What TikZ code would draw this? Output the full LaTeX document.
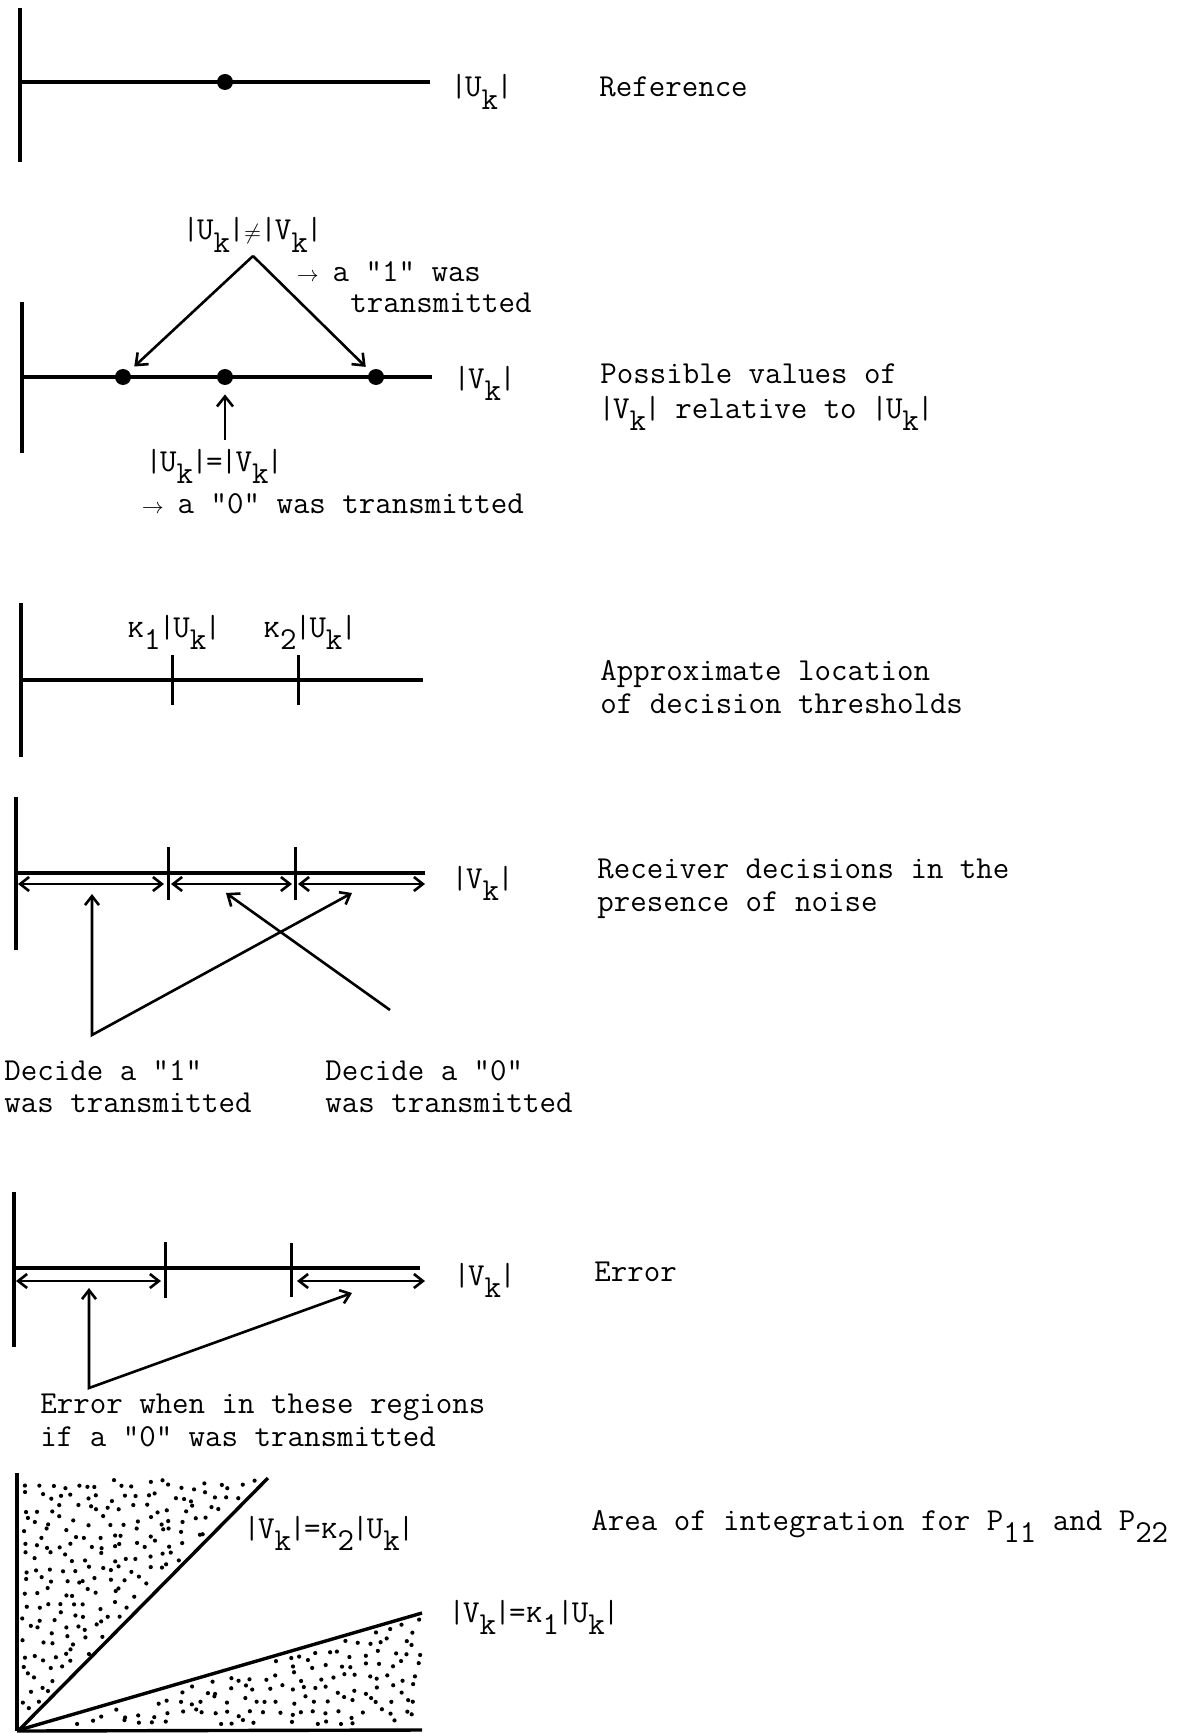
\documentclass[tikz,border=0pt]{standalone}
\usetikzlibrary{arrows.meta}
\newcommand{\bv}{\makebox[0.4em]{|}}
\newcommand{\lw}[1]{\raisebox{-0.4em}{#1}}
\newcommand{\kap}{{\scshape k}}
\newcommand{\rarr}{\makebox[0.525em]{$\scriptstyle\rightarrow$}}
\newcommand{\neqc}{\makebox[0.6em]{$\scriptstyle\neq$}}
\newcommand{\eqc}{\makebox[0.525em]{=}}
\begin{document}
\begin{tikzpicture}[x=0.5pt,y=-0.5pt,
  txt/.style={anchor=base west,inner sep=0pt,font=\fontsize{16}{19}\selectfont\ttfamily},
  axis/.style={line width=1.7pt},
  tickm/.style={line width=1.5pt},
  arr/.style={line width=1.3pt,-{Straight Barb[length=5pt,width=8pt]}},
  darr/.style={line width=1.3pt,{Straight Barb[length=4.5pt,width=7pt]}-{Straight Barb[length=4.5pt,width=7pt]}},
  dot/.style={circle,fill,inner sep=0pt,minimum size=8pt},
  stip/.style={radius=1.05pt}]
\useasboundingbox[fill=white] (0,0) rectangle (1191,1733);

% ---------- Panel 1: Reference
\coordinate (p1t) at (20,8);
\coordinate (p1b) at (20,162);
\coordinate (p1l) at (20,82);
\coordinate (p1r) at (430,82);
\draw[axis] (p1t) -- (p1b);
\draw[axis] (p1l) -- (p1r);
\node[dot] (d0) at (225,82) {};
\node[txt] (l1) at (452,97) {\bv U\lw{k}\bv};
\node[txt] (r1) at (599,97) {Reference};

% ---------- Panel 2: possible values
\coordinate (p2t) at (22,302);
\coordinate (p2b) at (22,453);
\coordinate (p2l) at (22,377);
\coordinate (p2r) at (432,377);
\draw[axis] (p2t) -- (p2b);
\draw[axis] (p2l) -- (p2r);
\node[dot] (d1) at (123,377) {};
\node[dot] (d2) at (225,377) {};
\node[dot] (d3) at (376,377) {};
\coordinate (apex) at (253,256);
\draw[arr,shorten >=3.5pt] (apex) -- (d1);
\draw[arr,shorten >=3pt] (apex) -- (d3);
\coordinate (up0) at (225,440);
\draw[arr,shorten >=4.5pt] (up0) -- (d2);
\node[txt] (ne) at (184,240) {\bv U\lw{k}\bv\neqc\bv V\lw{k}\bv};
\node[txt] (t1a) at (299,282) {\rarr{} a "1" was};
\node[txt] (t1b) at (350,313) {transmitted};
\node[txt] (l2) at (455,388) {\bv V\lw{k}\bv};
\node[txt] (eq) at (147,471) {\bv U\lw{k}\bv\eqc\bv V\lw{k}\bv};
\node[txt] (t0) at (144,513) {\rarr{} a "0" was transmitted};
\node[txt] (r2a) at (600,384) {Possible values of};
\node[txt] (r2b) at (600,418) {\bv V\lw{k}\bv{} relative to \bv U\lw{k}\bv};

% ---------- Panel 3: thresholds
\coordinate (p3t) at (21,603);
\coordinate (p3b) at (21,757);
\coordinate (p3l) at (21,680);
\coordinate (p3r) at (423,680);
\draw[axis] (p3t) -- (p3b);
\draw[axis] (p3l) -- (p3r);
\coordinate (k1t) at (172,655); \coordinate (k1b) at (172,705);
\coordinate (k2t) at (298,655); \coordinate (k2b) at (298,705);
\draw[tickm] (k1t) -- (k1b);
\draw[tickm] (k2t) -- (k2b);
\node[txt] (k1l) at (127,637) {\kap\lw{1}\bv U\lw{k}\bv};
\node[txt] (k2l) at (263,637) {\kap\lw{2}\bv U\lw{k}\bv};
\node[txt] (r3a) at (600,680) {Approximate location};
\node[txt] (r3b) at (600,713) {of decision thresholds};

% ---------- Panel 4: receiver decisions
\coordinate (p4t) at (16,797);
\coordinate (p4b) at (16,950);
\coordinate (p4l) at (16,873);
\coordinate (p4r) at (425,873);
\draw[axis] (p4t) -- (p4b);
\draw[axis] (p4l) -- (p4r);
\coordinate (m1t) at (168,847); \coordinate (m1b) at (168,900);
\coordinate (m2t) at (295,847); \coordinate (m2b) at (295,900);
\draw[tickm] (m1t) -- (m1b);
\draw[tickm] (m2t) -- (m2b);
\coordinate (s1a) at (18,884);  \coordinate (s1b) at (164,884);
\coordinate (s2a) at (171,884); \coordinate (s2b) at (292,884);
\coordinate (s3a) at (298,884); \coordinate (s3b) at (425,884);
\draw[darr] (s1a) -- (s1b);
\draw[darr] (s2a) -- (s2b);
\draw[darr] (s3a) -- (s3b);
\coordinate (dc1u) at (92,894);
\coordinate (dc1c) at (92,1035);
\coordinate (dc1d) at (352,893);
\draw[darr] (dc1u) -- (dc1c) -- (dc1d);
\coordinate (dc0s) at (390,1010);
\coordinate (dc0e) at (226,893);
\draw[arr] (dc0s) -- (dc0e);
\node[txt] (l4) at (453,888) {\bv V\lw{k}\bv};
\node[txt] (dec1a) at (4,1080) {Decide a "1"};
\node[txt] (dec1b) at (4,1112) {was transmitted};
\node[txt] (dec0a) at (325,1080) {Decide a "0"};
\node[txt] (dec0b) at (325,1112) {was transmitted};
\node[txt] (r4a) at (597,878) {Receiver decisions in the};
\node[txt] (r4b) at (597,911) {presence of noise};

% ---------- Panel 5: error
\coordinate (p5t) at (14,1192);
\coordinate (p5b) at (14,1347);
\coordinate (p5l) at (14,1268);
\coordinate (p5r) at (420,1268);
\draw[axis] (p5t) -- (p5b);
\draw[axis] (p5l) -- (p5r);
\coordinate (n1t) at (165,1242); \coordinate (n1b) at (165,1298);
\coordinate (n2t) at (291,1243); \coordinate (n2b) at (291,1297);
\draw[tickm] (n1t) -- (n1b);
\draw[tickm] (n2t) -- (n2b);
\coordinate (e1a) at (16,1281);  \coordinate (e1b) at (161,1281);
\coordinate (e2a) at (297,1281); \coordinate (e2b) at (425,1281);
\draw[darr] (e1a) -- (e1b);
\draw[darr] (e2a) -- (e2b);
\coordinate (er1) at (89,1288);
\coordinate (erc) at (89,1388);
\coordinate (er2) at (352,1293);
\draw[darr] (er1) -- (erc) -- (er2);
\node[txt] (l5) at (455,1285) {\bv V\lw{k}\bv};
\node[txt] (r5) at (594,1281) {Error};
\node[txt] (ewa) at (40,1413) {Error when in these regions};
\node[txt] (ewb) at (40,1446) {if a "0" was transmitted};

% ---------- Panel 6: area of integration (stipple)
\pgfmathsetseed{4242}
\foreach \gx in {0,...,20}{
  \foreach \gy in {0,...,20}{
    \pgfmathsetmacro{\px}{22+\gx*12+rnd*10}
    \pgfmathsetmacro{\py}{1480+\gy*12+rnd*10}
    \pgfmathtruncatemacro{\ok}{(\px < 20+(1730-\py)*0.984-5) ? 1 : 0}
    \ifnum\ok=1 \fill (\px,\py) circle[stip]; \fi
  }
}
\foreach \gx in {0,...,32}{
  \foreach \gy in {0,...,10}{
    \pgfmathsetmacro{\px}{24+\gx*12.5+rnd*10}
    \pgfmathsetmacro{\py}{1612+\gy*12+rnd*10}
    \pgfmathtruncatemacro{\ok}{((\py > 1730-(\px-20)*0.291+5) && (\py < 1725) && (\px < 421)) ? 1 : 0}
    \ifnum\ok=1 \fill (\px,\py) circle[stip]; \fi
  }
}
\coordinate (o6) at (19,1730);
\coordinate (p6t) at (17,1473);
\coordinate (p6b) at (17,1731);
\coordinate (p6r) at (422,1730);
\coordinate (q2) at (268,1478);
\coordinate (q1) at (422,1613);
\draw[axis] (p6t) -- (p6b);
\draw[axis] (p6b) -- (p6r);
\draw[axis] (o6) -- (q2);
\draw[axis] (o6) -- (q1);
\node[txt] (lk2) at (245,1538) {\bv V\lw{k}\bv\eqc\kap\lw{2}\bv U\lw{k}\bv};
\node[txt] (lk1) at (450,1622) {\bv V\lw{k}\bv\eqc\kap\lw{1}\bv U\lw{k}\bv};
\node[txt] (r6) at (591,1530) {Area of integration for P\lw{11} and P\lw{22}};
\end{tikzpicture}
\end{document}
